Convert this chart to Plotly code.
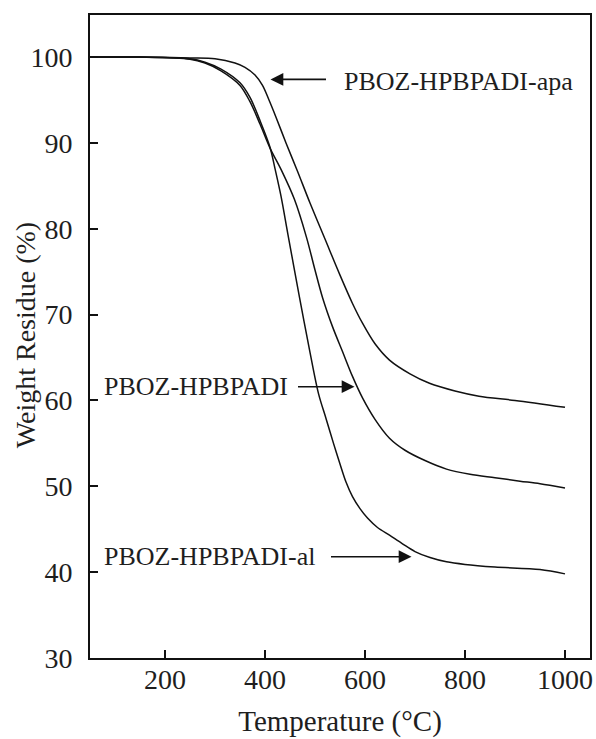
import plotly.graph_objects as go

# ---- data ----
apa_T = [50, 150, 250, 300, 340, 360, 380, 395, 408, 422, 442, 465, 490, 520, 550, 575, 595, 620, 649, 690, 729, 780, 828, 900, 1000]
apa_W = [100, 100, 99.9, 99.8, 99.3, 98.8, 97.9, 96.7, 95.0, 93.0, 90.0, 86.7, 83.0, 78.8, 74.6, 71.3, 69.0, 66.6, 64.7, 63.1, 62.0, 61.1, 60.5, 60.0, 59.2]

base_T = [50, 150, 250, 280, 312, 350, 370, 390, 410, 433, 459, 483, 500, 515, 535, 555, 575, 595, 620, 649, 680, 720, 763, 810, 860, 910, 950, 1000]
base_W = [100, 100, 99.75, 99.3, 98.4, 96.7, 94.8, 92.2, 89.4, 86.8, 83.4, 79.0, 75.2, 72.0, 68.6, 65.7, 62.8, 60.3, 57.8, 55.6, 54.2, 53.0, 52.0, 51.4, 51.0, 50.6, 50.3, 49.8]

al_T = [50, 150, 250, 280, 312, 350, 370, 390, 410, 420, 432, 446, 469, 490, 507, 522, 537, 550, 562, 575, 590, 605, 625, 649, 675, 700, 730, 763, 800, 860, 950, 1000]
al_W = [100, 100, 99.8, 99.4, 98.6, 97.0, 95.3, 92.6, 89.5, 87.0, 83.8, 79.3, 72.0, 65.6, 60.8, 57.9, 55.0, 52.6, 50.5, 48.8, 47.4, 46.3, 45.2, 44.3, 43.3, 42.4, 41.7, 41.2, 40.9, 40.6, 40.3, 39.8]

series_names = ["PBOZ-HPBPADI-apa", "PBOZ-HPBPADI", "PBOZ-HPBPADI-al"]
x_ticks = [200, 400, 600, 800, 1000]
y_ticks = [30, 40, 50, 60, 70, 80, 90, 100]

FONT = "Liberation Serif, Times New Roman, serif"
INK = "#1e1e1e"

fig = go.Figure()
for name, T, W in zip(series_names, [apa_T, base_T, al_T], [apa_W, base_W, al_W]):
    fig.add_trace(go.Scatter(x=T, y=W, mode="lines", name=name,
                             line=dict(color="#111111", width=1.5, shape="spline", smoothing=0.9),
                             showlegend=False))

# arrows (head at curve, tail toward label)
arrows = [
    (411, 97.4, 525, 97.4),
    (579, 61.6, 463, 61.6),
    (693, 41.8, 529, 41.8),
]
for hx, hy, tx, ty in arrows:
    fig.add_annotation(x=hx, y=hy, ax=tx, ay=ty, xref="x", yref="y", axref="x", ayref="y",
                       text="", showarrow=True, arrowhead=2, arrowsize=1.6, arrowwidth=1.6,
                       arrowcolor="#111111")

labels = [
    (553, 97.2, series_names[0]),
    (74, 61.6, series_names[1]),
    (74, 41.8, series_names[2]),
]
for x, y, t in labels:
    fig.add_annotation(x=x, y=y, xref="x", yref="y", text=t, showarrow=False,
                       xanchor="left", yanchor="middle",
                       font=dict(family=FONT, size=26, color=INK))

# y-axis title placed as a rotated paper annotation
fig.add_annotation(x=-0.13, y=0.502, xref="paper", yref="paper", text="Weight Residue (%)",
                   textangle=-90, showarrow=False, xanchor="center", yanchor="middle",
                   font=dict(family=FONT, size=28, color=INK))

fig.update_layout(
    width=596, height=739,
    margin=dict(l=90, r=6, t=15, b=81, autoexpand=False),
    paper_bgcolor="white", plot_bgcolor="white",
    font=dict(family=FONT, size=28, color=INK),
)
fig.update_xaxes(range=[50, 1050], tickvals=x_ticks, ticks="inside", ticklen=8, tickwidth=1.5,
                 tickcolor="#111111", showline=True, linecolor="#111111", linewidth=1.6,
                 mirror=True, showgrid=False, zeroline=False, ticklabelstandoff=-4,
                 tickfont=dict(family=FONT, size=28, color=INK),
                 title=dict(text="Temperature (°C)", font=dict(family=FONT, size=29, color=INK), standoff=16))
fig.update_yaxes(range=[30, 104.9], tickvals=y_ticks, ticks="inside", ticklen=8, tickwidth=1.5,
                 tickcolor="#111111", showline=True, linecolor="#111111", linewidth=1.6,
                 mirror=True, showgrid=False, zeroline=False, ticklabelstandoff=10,
                 tickfont=dict(family=FONT, size=28, color=INK))

fig.write_html("out.html", config={"displayModeBar": False},
               post_script="document.body.style.margin='0';")
